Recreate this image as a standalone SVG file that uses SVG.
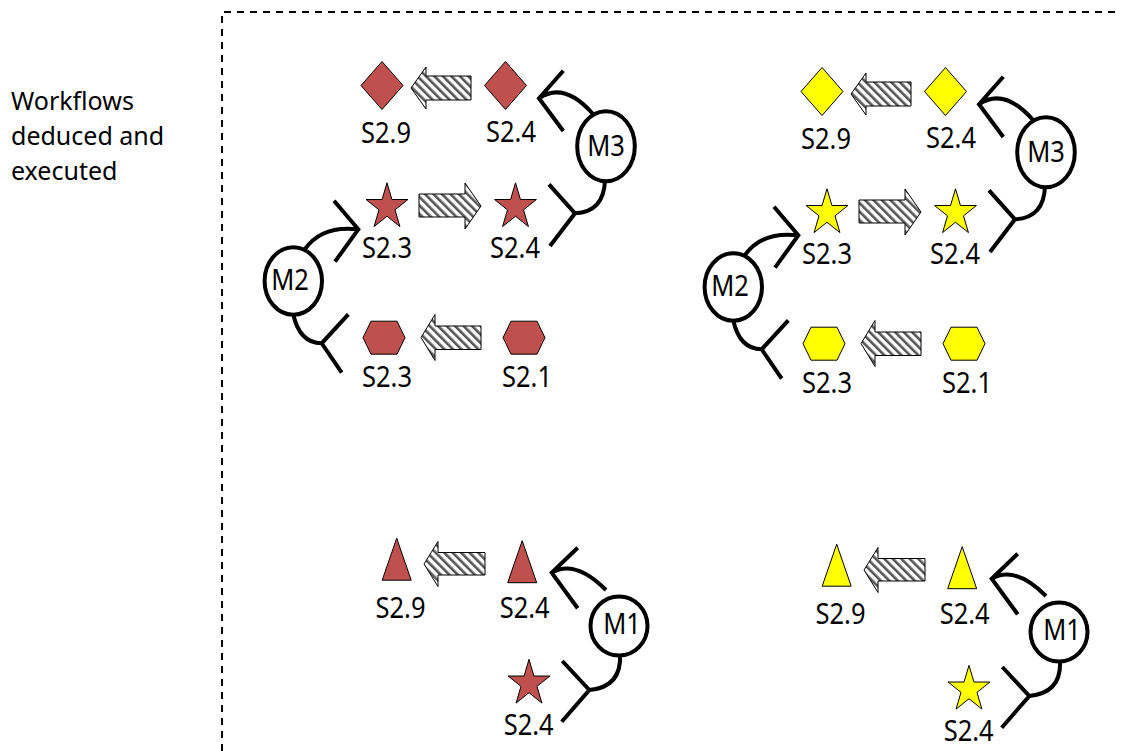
<svg xmlns="http://www.w3.org/2000/svg" xmlns:xlink="http://www.w3.org/1999/xlink" width="1121" height="751" viewBox="0 0 1121 751">
  <style>
    .red { fill: #C0504D; stroke: #000; stroke-width: 1; }
    .yel { fill: #FFFF00; stroke: #000; stroke-width: 1; }
    .flow { fill: url(#hatch); stroke: #000; stroke-width: 1; }
    .fork { fill: none; stroke: #000; stroke-width: 4; stroke-linecap: butt; }
    .mod { fill: #fff; stroke: #000; stroke-width: 4; }
    .lbl { font-family: "Noto Sans", "Open Sans", "Liberation Sans", sans-serif; font-size: 25.5px; fill: #000; }
    .cap { font-family: "Noto Sans", "Open Sans", "Liberation Sans", sans-serif; font-size: 25px; fill: #000; }
    .frame { fill: none; stroke: #000; stroke-width: 2; stroke-dasharray: 7 6; }
  </style>
  <defs>
    <pattern id="hatch" patternUnits="userSpaceOnUse" width="6" height="6" patternTransform="rotate(-45)">
      <rect width="6" height="6" fill="#fff"/>
      <rect width="2.6" height="6" fill="#555"/>
    </pattern>
    <path id="diamond" d="M0,-24 L21,0 L0,24 L-21,0 Z"/>
    <path id="hexagon" d="M-21,0 L-13,-16.5 L13,-16.5 L21,0 L13,16.5 L-13,16.5 Z"/>
    <path id="triangle" d="M0,-21 L14.5,21 L-14.5,21 Z"/>
    <path id="star" d="M0,-24.2 L4.94,-7.48 L20.92,-7.48 L7.99,2.86 L12.93,19.58 L0,9.24 L-12.93,19.58 L-7.99,2.86 L-20.92,-7.48 L-4.94,-7.48 Z"/>
  </defs>

  <rect width="1121" height="751" fill="#fff"/>

  <!-- caption, three lines 35px apart -->
  <g id="caption">
    <text class="cap"><tspan x="11" y="110">Workflows</tspan><tspan x="11" y="145">deduced and</tspan><tspan x="11" y="180">executed</tspan></text>
  </g>

  <!-- dashed frame -->
  <path class="frame" d="M222,751 V12 H1121"/>

  <!-- ===== upper-left workflow (M2, M3) ===== -->
  <g id="wf-a">
    <g id="connectors-a">
      <path class="flow" d="M411,88 L426,67 V76 H471 V100 H426 V109 Z"/>
      <path class="flow" d="M419,194 H465 V183 L481,206 L465,229 V217 H419 Z"/>
      <path class="flow" d="M421,337.5 L435,314.5 V326 H481 V349.5 H435 V360.5 Z"/>
      <path class="fork" d="M563.3,70.7 L539,98.3 L563.3,131 M539,98.3 Q564,81 593,114"/>
      <path class="fork" d="M549,184.3 L575,213.3 L550,246 M575,213.3 Q604,212 605,180"/>
      <path class="fork" d="M334,200.7 L358.3,229.3 L335,261.7 M305,249 Q322,225 358.3,229.3"/>
      <path class="fork" d="M348.3,314.3 L321.7,343.3 L341.7,372.7 M293,313 Q299,343 321.7,343.3"/>
    </g>
    <g id="a-m3">
      <ellipse class="mod" cx="606" cy="146.3" rx="28.8" ry="35"/>
      <text class="lbl" text-anchor="middle" transform="translate(606 156) scale(1 1.15)">M3</text>
    </g>
    <g id="a-m2">
      <ellipse class="mod" cx="293.3" cy="281" rx="28.7" ry="33.8"/>
      <text class="lbl" text-anchor="middle" transform="translate(290 290) scale(1 1.15)">M2</text>
    </g>
    <g id="a-s29">
      <use href="#diamond" class="red" x="382" y="85.5"/>
      <text class="lbl" text-anchor="middle" transform="translate(386 143) scale(1 1.15)">S2.9</text>
    </g>
    <g id="a-s24-top">
      <use href="#diamond" class="red" x="505.5" y="85.5"/>
      <text class="lbl" text-anchor="middle" transform="translate(511 142) scale(1 1.15)">S2.4</text>
    </g>
    <g id="a-s23-star">
      <use href="#star" class="red" x="387" y="207"/>
      <text class="lbl" text-anchor="middle" transform="translate(387 258) scale(1 1.15)">S2.3</text>
    </g>
    <g id="a-s24-star">
      <use href="#star" class="red" x="515.5" y="207"/>
      <text class="lbl" text-anchor="middle" transform="translate(515 258) scale(1 1.15)">S2.4</text>
    </g>
    <g id="a-s23-hex">
      <use href="#hexagon" class="red" x="384" y="337.7"/>
      <text class="lbl" text-anchor="middle" transform="translate(387 387) scale(1 1.15)">S2.3</text>
    </g>
    <g id="a-s21-hex">
      <use href="#hexagon" class="red" x="524" y="337.7"/>
      <text class="lbl" text-anchor="middle" transform="translate(527 387) scale(1 1.15)">S2.1</text>
    </g>
  </g>

  <!-- ===== upper-right workflow (M2, M3) ===== -->
  <g id="wf-b" transform="translate(440 6)">
    <g id="connectors-b">
      <path class="flow" d="M411,88 L426,67 V76 H471 V100 H426 V109 Z"/>
      <path class="flow" d="M419,194 H465 V183 L481,206 L465,229 V217 H419 Z"/>
      <path class="flow" d="M421,337.5 L435,314.5 V326 H481 V349.5 H435 V360.5 Z"/>
      <path class="fork" d="M563.3,70.7 L539,98.3 L563.3,131 M539,98.3 Q564,81 593,114"/>
      <path class="fork" d="M549,184.3 L575,213.3 L550,246 M575,213.3 Q604,212 605,180"/>
      <path class="fork" d="M334,200.7 L358.3,229.3 L335,261.7 M305,249 Q322,225 358.3,229.3"/>
      <path class="fork" d="M348.3,314.3 L321.7,343.3 L341.7,372.7 M293,313 Q299,343 321.7,343.3"/>
    </g>
    <g id="b-m3">
      <ellipse class="mod" cx="606" cy="146.3" rx="28.8" ry="35"/>
      <text class="lbl" text-anchor="middle" transform="translate(606 156) scale(1 1.15)">M3</text>
    </g>
    <g id="b-m2">
      <ellipse class="mod" cx="293.3" cy="281" rx="28.7" ry="33.8"/>
      <text class="lbl" text-anchor="middle" transform="translate(290 290) scale(1 1.15)">M2</text>
    </g>
    <g id="b-s29">
      <use href="#diamond" class="yel" x="382" y="85.5"/>
      <text class="lbl" text-anchor="middle" transform="translate(386 143) scale(1 1.15)">S2.9</text>
    </g>
    <g id="b-s24-top">
      <use href="#diamond" class="yel" x="505.5" y="85.5"/>
      <text class="lbl" text-anchor="middle" transform="translate(511 142) scale(1 1.15)">S2.4</text>
    </g>
    <g id="b-s23-star">
      <use href="#star" class="yel" x="387" y="207"/>
      <text class="lbl" text-anchor="middle" transform="translate(387 258) scale(1 1.15)">S2.3</text>
    </g>
    <g id="b-s24-star">
      <use href="#star" class="yel" x="515.5" y="207"/>
      <text class="lbl" text-anchor="middle" transform="translate(515 258) scale(1 1.15)">S2.4</text>
    </g>
    <g id="b-s23-hex">
      <use href="#hexagon" class="yel" x="384" y="337.7"/>
      <text class="lbl" text-anchor="middle" transform="translate(387 387) scale(1 1.15)">S2.3</text>
    </g>
    <g id="b-s21-hex">
      <use href="#hexagon" class="yel" x="524" y="337.7"/>
      <text class="lbl" text-anchor="middle" transform="translate(527 387) scale(1 1.15)">S2.1</text>
    </g>
  </g>

  <!-- ===== lower-left workflow (M1) ===== -->
  <g id="wf-c">
    <g id="connectors-c">
      <path class="flow" d="M424,564 L438,541.5 V552.5 H485 V575 H438 V586.5 Z"/>
      <path class="fork" d="M577.7,547.7 L551.7,572.7 L577.7,608.3 M551.7,572.7 Q575,559 606,590"/>
      <path class="fork" d="M562.3,661 L589.3,690 L561.7,721.7 M589.3,690 Q622,687 620,654"/>
    </g>
    <g id="c-m1">
      <ellipse class="mod" cx="619" cy="626" rx="28.5" ry="29.5"/>
      <text class="lbl" text-anchor="middle" transform="translate(622 634) scale(1 1.15)">M1</text>
    </g>
    <g id="c-s29">
      <use href="#triangle" class="red" x="396.7" y="559.2"/>
      <text class="lbl" text-anchor="middle" transform="translate(400.5 618) scale(1 1.15)">S2.9</text>
    </g>
    <g id="c-s24-tri">
      <use href="#triangle" class="red" x="522.2" y="561.7"/>
      <text class="lbl" text-anchor="middle" transform="translate(524.7 618) scale(1 1.15)">S2.4</text>
    </g>
    <g id="c-s24-star">
      <use href="#star" class="red" x="529" y="683.5"/>
      <text class="lbl" text-anchor="middle" transform="translate(528.7 735) scale(1 1.15)">S2.4</text>
    </g>
  </g>

  <!-- ===== lower-right workflow (M1) ===== -->
  <g id="wf-d" transform="translate(440 6)">
    <g id="connectors-d">
      <path class="flow" d="M424,564 L438,541.5 V552.5 H485 V575 H438 V586.5 Z"/>
      <path class="fork" d="M577.7,547.7 L551.7,572.7 L577.7,608.3 M551.7,572.7 Q575,559 606,590"/>
      <path class="fork" d="M562.3,661 L589.3,690 L561.7,721.7 M589.3,690 Q622,687 620,654"/>
    </g>
    <g id="d-m1">
      <ellipse class="mod" cx="619" cy="626" rx="28.5" ry="29.5"/>
      <text class="lbl" text-anchor="middle" transform="translate(622 634) scale(1 1.15)">M1</text>
    </g>
    <g id="d-s29">
      <use href="#triangle" class="yel" x="396.7" y="559.2"/>
      <text class="lbl" text-anchor="middle" transform="translate(400.5 618) scale(1 1.15)">S2.9</text>
    </g>
    <g id="d-s24-tri">
      <use href="#triangle" class="yel" x="522.2" y="561.7"/>
      <text class="lbl" text-anchor="middle" transform="translate(524.7 618) scale(1 1.15)">S2.4</text>
    </g>
    <g id="d-s24-star">
      <use href="#star" class="yel" x="529" y="683.5"/>
      <text class="lbl" text-anchor="middle" transform="translate(528.7 735) scale(1 1.15)">S2.4</text>
    </g>
  </g>
</svg>
